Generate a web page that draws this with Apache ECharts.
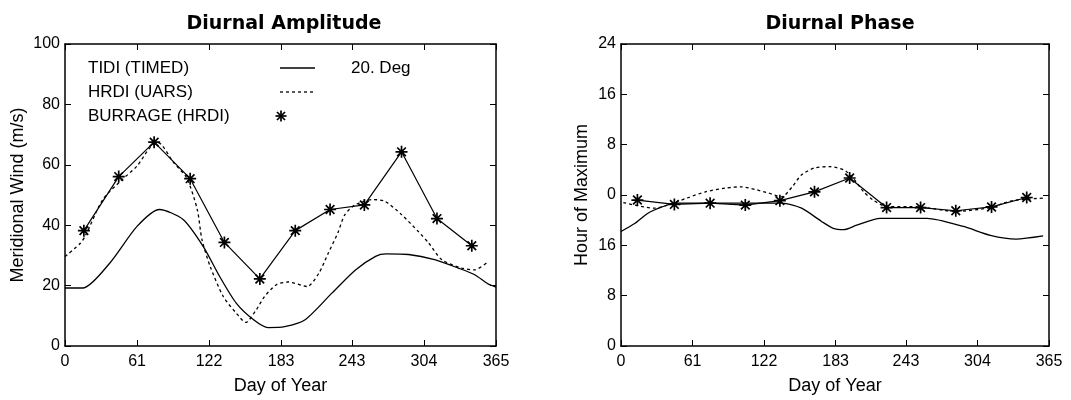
<!DOCTYPE html>
<html>
<head>
<meta charset="utf-8">
<script src="https://cdn.jsdelivr.net/npm/echarts@6/dist/echarts.min.js"></script>
<style>
  html, body { margin: 0; padding: 0; background: #fff; }
  #main { width: 1071px; height: 400px; }
</style>
</head>
<body>
<div id="main"></div>
<script>
// 横轴刻度 (day of year)
var dayTicks = [0, 61, 122, 183, 243, 304, 365];

// 左图: Diurnal Amplitude
var ampTidiDays = [0, 15, 38, 61, 80, 100, 117, 131, 145, 160, 172, 186, 203, 226, 246, 263, 272, 291, 313, 333, 347, 358, 365];
var ampTidiVals = [19.2, 19.2, 27.5, 39.6, 45.2, 41.9, 33, 23, 14.2, 8.6, 6.1, 6.4, 8.6, 17.5, 25.2, 29.7, 30.5, 30.3, 28.6, 25.8, 23.6, 20.6, 19.5];

var ampHrdiDays = [0, 13, 17, 32, 47, 61, 72, 79, 92, 103, 112, 116, 123, 134, 145, 153, 162, 169, 179, 189, 205, 215, 223, 231, 237, 246, 260, 271, 285, 299, 308, 319, 336, 347, 357];
var ampHrdiVals = [29.6, 34, 36.3, 48.5, 54.6, 59.6, 65.7, 67.3, 60.7, 55.7, 45.2, 35.2, 26.3, 16.4, 10.9, 7.8, 12, 16.4, 20.3, 21.2, 19.7, 24.1, 30.8, 37.4, 43.5, 46.8, 48.5, 47.9, 43.5, 38, 34.1, 28.6, 25.8, 25.2, 27.5];

var ampBurDays = [16, 45.5, 75.5, 106, 135, 165, 195, 224.5, 253.5, 285, 315, 344.5];
var ampBurVals = [38.2, 56.1, 67.5, 55.4, 34.3, 22.2, 38.2, 45.2, 46.7, 64.3, 42.2, 33.2];

// 右图: Diurnal Phase (axis runs 0..48, labels wrap at 24)
var phTidiDays = [0, 12, 23, 35, 46, 80, 137, 154, 171, 181, 190, 201, 221, 261, 292, 315, 337, 360];
var phTidiVals = [18.2, 19.5, 21.1, 22.1, 22.7, 22.7, 22.7, 21.9, 19.8, 18.7, 18.5, 19.2, 20.3, 20.3, 19.0, 17.6, 17.0, 17.5];

var phHrdiDays = [2, 29, 40, 56, 72, 89, 103, 114, 126, 137, 146, 154, 165, 178, 190, 197, 207, 215, 226, 255, 285, 316, 326, 337, 360];
var phHrdiVals = [22.8, 21.9, 22.4, 23.5, 24.5, 25.1, 25.3, 24.9, 24.3, 23.7, 25.3, 27.2, 28.3, 28.5, 28.0, 26.9, 24.5, 23.2, 22.2, 22.1, 21.4, 22.0, 22.7, 23.2, 23.5];

var phBurDays = [14, 45.5, 76, 106, 135.5, 165, 195, 226.5, 255.5, 285.5, 316, 346];
var phBurVals = [23.2, 22.5, 22.7, 22.4, 23.1, 24.5, 26.7, 22.0, 22.0, 21.5, 22.1, 23.6];

function zip(xs, ys) {
    var out = [];
    for (var i = 0; i < xs.length; i++) out.push([xs[i], ys[i]]);
    return out;
}

var FONT = 'Liberation Sans';
var star = 'path://M0 -5 L0 5 M-5 0 L5 0 M-3.6 -3.6 L3.6 3.6 M-3.6 3.6 L3.6 -3.6';
var dash = [3, 3];

function xAxes(gi) {
    return [{
        gridIndex: gi, type: 'value', min: 0, max: 365, position: 'bottom',
        name: 'Day of Year', nameLocation: 'middle', nameGap: 31,
        nameTextStyle: { color: '#000', fontSize: 18, fontFamily: FONT },
        axisLine: { onZero: false, lineStyle: { color: '#000', width: 1.5 } },
        axisTick: { inside: true, length: 6, customValues: dayTicks, lineStyle: { color: '#000' } },
        axisLabel: { customValues: dayTicks, color: '#000', fontSize: 16, fontFamily: FONT, margin: 8 },
        splitLine: { show: false }
    }, {
        gridIndex: gi, type: 'value', min: 0, max: 365, position: 'top',
        axisLine: { onZero: false, lineStyle: { color: '#000', width: 1.5 } },
        axisTick: { inside: true, length: 6, customValues: dayTicks, lineStyle: { color: '#000' } },
        axisLabel: { show: false },
        splitLine: { show: false }
    }];
}

function yAxes(gi, max, interval, name, gap, fmt) {
    return [{
        gridIndex: gi, type: 'value', min: 0, max: max, interval: interval, position: 'left',
        name: name, nameLocation: 'middle', nameGap: gap, nameRotate: 90,
        nameTextStyle: { color: '#000', fontSize: 18, fontFamily: FONT },
        axisLine: { show: true, onZero: false, lineStyle: { color: '#000', width: 1.5 } },
        axisTick: { show: true, inside: true, length: 6, lineStyle: { color: '#000' } },
        axisLabel: { color: '#000', fontSize: 16, fontFamily: FONT, margin: 5, formatter: fmt },
        splitLine: { show: false }
    }, {
        gridIndex: gi, type: 'value', min: 0, max: max, interval: interval, position: 'right',
        axisLine: { show: true, onZero: false, lineStyle: { color: '#000', width: 1.5 } },
        axisTick: { show: true, inside: true, length: 6, lineStyle: { color: '#000' } },
        axisLabel: { show: false },
        splitLine: { show: false }
    }];
}

function curve(xi, yi, data, type) {
    return {
        type: 'line', xAxisIndex: xi, yAxisIndex: yi, data: data,
        smooth: 0.25, symbol: 'none', silent: true,
        lineStyle: { color: '#000', width: 1.3, type: type }
    };
}

function stars(xi, yi, data) {
    return {
        type: 'line', xAxisIndex: xi, yAxisIndex: yi, data: data,
        symbol: star, symbolSize: 12, showSymbol: true, silent: true,
        itemStyle: { color: 'none', borderColor: '#000', borderWidth: 1.7 },
        lineStyle: { color: '#000', width: 1.2 }
    };
}

// 图例里的星号, 用四条短线拼出来
function starGlyph(cx, cy) {
    var segs = [[0, -5.5, 0, 5.5], [-5.5, 0, 5.5, 0], [-4, -4, 4, 4], [-4, 4, 4, -4]];
    var children = [];
    for (var i = 0; i < segs.length; i++) {
        children.push({
            type: 'line',
            shape: { x1: segs[i][0], y1: segs[i][1], x2: segs[i][2], y2: segs[i][3] },
            style: { stroke: '#000', lineWidth: 1.7 }
        });
    }
    return { type: 'group', x: cx, y: cy, children: children };
}

function label(text, x, y) {
    return { type: 'text', x: x, y: y, style: { text: text, font: '17px "' + FONT + '"', fill: '#000', textVerticalAlign: 'middle' } };
}

var myChart = echarts.init(document.getElementById('main'));

var option = {
    backgroundColor: '#fff',
    animation: false,
    title: [
        { text: 'Diurnal Amplitude', left: 279, top: 10, textAlign: 'center',
          textStyle: { fontSize: 19, fontWeight: 'bold', color: '#000', fontFamily: 'DejaVu Sans' } },
        { text: 'Diurnal Phase', left: 835, top: 10, textAlign: 'center',
          textStyle: { fontSize: 19, fontWeight: 'bold', color: '#000', fontFamily: 'DejaVu Sans' } }
    ],
    grid: [
        { left: 65, right: 575, top: 44, bottom: 54 },
        { left: 621, right: 22, top: 44, bottom: 54 }
    ],
    xAxis: xAxes(0).concat(xAxes(1)),
    yAxis: yAxes(0, 100, 20, 'Meridional Wind (m/s)', 38)
        .concat(yAxes(1, 48, 8, 'Hour of Maximum', 30, function (v) {
            return v === 48 ? '24' : String(v % 24);
        })),
    series: [
        curve(0, 0, zip(ampTidiDays, ampTidiVals), 'solid'),
        curve(0, 0, zip(ampHrdiDays, ampHrdiVals), dash),
        stars(0, 0, zip(ampBurDays, ampBurVals)),
        curve(2, 2, zip(phTidiDays, phTidiVals), 'solid'),
        curve(2, 2, zip(phHrdiDays, phHrdiVals), dash),
        stars(2, 2, zip(phBurDays, phBurVals))
    ],
    // 图例 (画在左图内部)
    graphic: [
        label('TIDI (TIMED)', 88, 68),
        label('HRDI (UARS)', 88, 92),
        label('BURRAGE (HRDI)', 88, 116),
        label('20. Deg', 351, 68),
        { type: 'line', shape: { x1: 280, y1: 68, x2: 315, y2: 68 }, style: { stroke: '#000', lineWidth: 1.3 } },
        { type: 'line', shape: { x1: 280, y1: 92, x2: 315, y2: 92 }, style: { stroke: '#000', lineWidth: 1.3, lineDash: dash } },
        starGlyph(281, 116)
    ]
};

myChart.setOption(option);
</script>
</body>
</html>
